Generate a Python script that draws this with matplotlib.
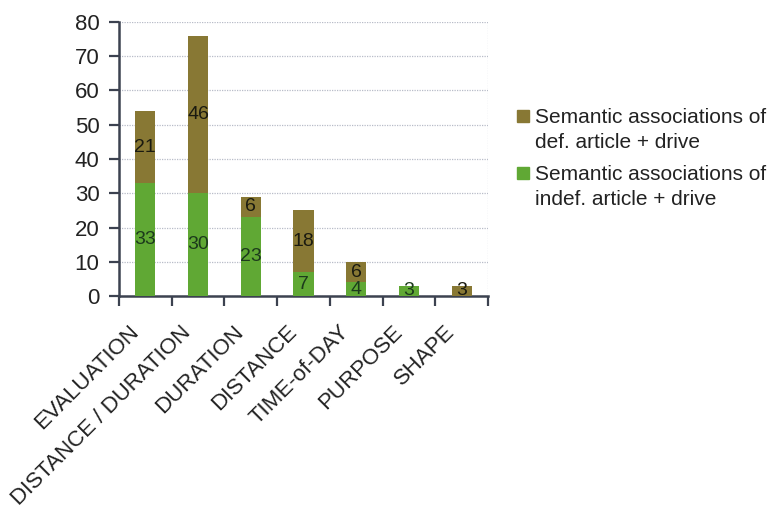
import numpy as np
import matplotlib.pyplot as plt
from matplotlib.patches import Rectangle
from matplotlib.transforms import ScaledTranslation

categories = ["EVALUATION", "DISTANCE / DURATION", "DURATION", "DISTANCE",
              "TIME-of-DAY", "PURPOSE", "SHAPE"]
indef_counts = [33, 30, 23, 7, 4, 3, 0]
def_counts = [21, 46, 6, 18, 6, 0, 3]
legend_lines = [["Semantic associations of", "def. article + drive"],
                ["Semantic associations of", "indef. article + drive"]]

GREEN = "#60a834"
BROWN = "#887834"
AXIS = "#3c4250"
TEXT = "#222222"

plt.rcParams["font.family"] = ["Liberation Sans", "DejaVu Sans"]

W, H = 771, 509
fig = plt.figure(figsize=(W / 100, H / 100), dpi=100)
ax = fig.add_axes([119 / W, 1 - 296 / H, (488 - 119) / W, (296 - 22) / H])

x = np.arange(len(categories))
w = 0.38
b1 = ax.bar(x, indef_counts, w, color=GREEN, zorder=3)
b2 = ax.bar(x, def_counts, w, bottom=indef_counts, color=BROWN, zorder=3)

for bars, vals, col in [(b1, indef_counts, "#1c3a1c"), (b2, def_counts, "#1a1a10")]:
    labels = [str(v) if v else "" for v in vals]
    ax.bar_label(bars, labels=labels, label_type="center", fontsize=14,
                 color=col, zorder=4)

ax.set_xlim(-0.5, len(categories) - 0.5)
ax.set_ylim(0, 80)
ax.set_yticks(range(0, 81, 10))
ax.yaxis.grid(True, linestyle=(0, (1, 1)), color="#b8bcc8", linewidth=0.9, zorder=0)
ax.axvline(len(categories) - 0.5, linestyle=(0, (1, 1)), color="#c8ccd6",
           linewidth=0.9, zorder=0)

# category names: rotated, right end tucked up-left of each bar
ax.set_xticks(x)
ax.set_xticklabels([])
ax.tick_params(axis="x", which="major", length=0)
lab_trans = ax.get_xaxis_transform() + ScaledTranslation(-10 / 100, -33 / 100,
                                                         fig.dpi_scale_trans)
for xi, name in zip(x, categories):
    ax.text(xi, 0, name, transform=lab_trans, rotation=45, ha="right",
            va="center", rotation_mode="anchor", fontsize=16, color=TEXT)

ax.set_xticks(np.arange(-0.5, len(categories)), minor=True)
ax.tick_params(axis="x", which="minor", length=7, width=1.6, color=AXIS, direction="out")
ax.tick_params(axis="y", length=7, width=1.6, color=AXIS, labelsize=16,
               labelcolor=TEXT, pad=7)

for side in ["top", "right"]:
    ax.spines[side].set_visible(False)
for side in ["left", "bottom"]:
    ax.spines[side].set_color(AXIS)
    ax.spines[side].set_linewidth(1.8)

# legend drawn by hand: square swatch beside a two-line label
for (line1, line2), col, top in zip(legend_lines, [BROWN, GREEN], [110, 167]):
    fig.patches.append(Rectangle((517 / W, 1 - (top + 12) / H), 12 / W, 12 / H,
                                 transform=fig.transFigure, color=col))
    fig.text(535 / W, 1 - (top + 13) / H, line1, fontsize=15, color=TEXT,
             va="baseline", ha="left")
    fig.text(535 / W, 1 - (top + 38) / H, line2, fontsize=15, color=TEXT,
             va="baseline", ha="left")

fig.savefig("out.png", dpi=100, facecolor="white")
